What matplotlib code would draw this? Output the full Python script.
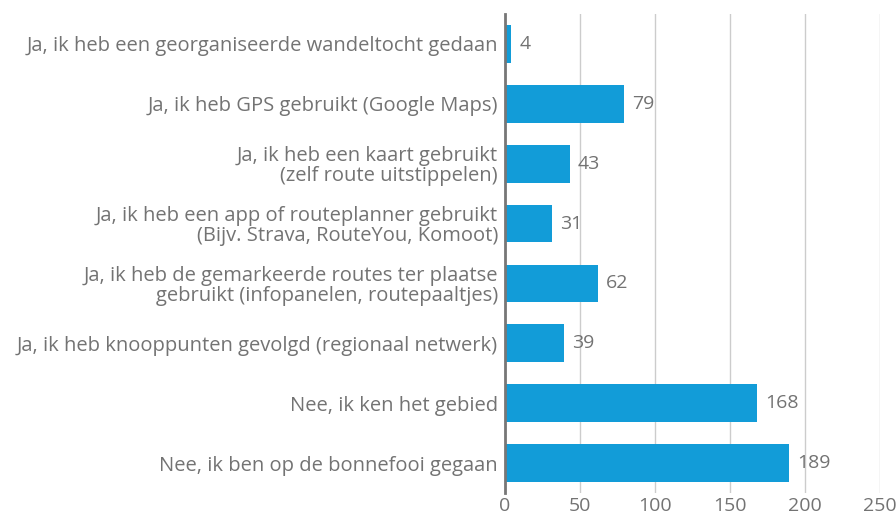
import matplotlib.pyplot as plt

categories = [
    "Ja, ik heb een georganiseerde wandeltocht gedaan",
    "Ja, ik heb GPS gebruikt (Google Maps)",
    "Ja, ik heb een kaart gebruikt\n(zelf route uitstippelen)",
    "Ja, ik heb een app of routeplanner gebruikt\n(Bijv. Strava, RouteYou, Komoot)",
    "Ja, ik heb de gemarkeerde routes ter plaatse\ngebruikt (infopanelen, routepaaltjes)",
    "Ja, ik heb knooppunten gevolgd (regionaal netwerk)",
    "Nee, ik ken het gebied",
    "Nee, ik ben op de bonnefooi gegaan",
]
values = [4, 79, 43, 31, 62, 39, 168, 189]
xticks = [0, 50, 100, 150, 200, 250]

plt.rcParams['font.family'] = ['Open Sans', 'DejaVu Sans']
txt = '#737373'

fig = plt.figure(figsize=(8.96, 5.16), dpi=100)
ax = fig.add_axes([505 / 896, 1 - 493 / 516, 375 / 896, 479 / 516])

pos = list(range(len(categories)))
ax.barh(pos, values, height=0.63, color='#129cd8', zorder=3)
for p, v in zip(pos, values):
    ax.annotate(str(v), (v, p), xytext=(6, 0), textcoords='offset points',
                va='center', ha='left', fontsize=14, color=txt)

ax.set_ylim(len(categories) - 0.5, -0.5)
ax.set_xlim(0, 250)
ax.set_yticks(pos)
ax.set_yticklabels(categories, fontsize=14.5, color=txt, linespacing=1.0)
ax.set_xticks(xticks)
ax.set_xticklabels([str(t) for t in xticks], fontsize=14, color=txt)
ax.tick_params(axis='both', length=0)
ax.tick_params(axis='y', pad=5)
ax.tick_params(axis='x', pad=3)

ax.grid(axis='x', color='#cccccc', linewidth=1, zorder=0)
for s in ['top', 'right', 'bottom']:
    ax.spines[s].set_visible(False)
ax.spines['left'].set_color('#777777')
ax.spines['left'].set_linewidth(2)
ax.spines['left'].set_zorder(4)

fig.savefig('out.png', dpi=100)
